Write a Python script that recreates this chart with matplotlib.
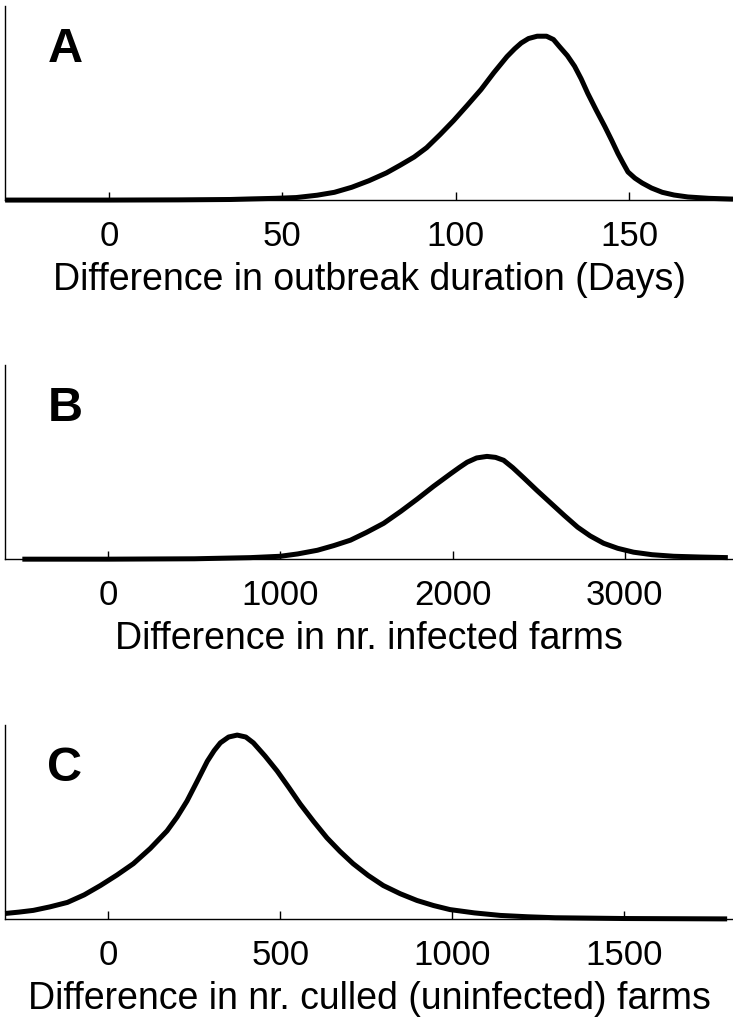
import numpy as np
import matplotlib
matplotlib.use('Agg')
import matplotlib.pyplot as plt

plt.rcParams['font.family'] = ['Liberation Sans', 'DejaVu Sans']

# panel A: difference in outbreak duration (days), normalised density
dur_x = [-30, 0, 20, 35, 41, 48, 54, 60, 65, 70, 75, 80, 84, 88, 91.6, 95.5, 99.4,
         103.4, 107.3, 111, 114.8, 117, 118.9, 121, 123.5, 126.2, 128.2, 130,
         132.2, 134.3, 136.2, 138.1, 140.5, 143, 145, 146.8, 148.3, 149.7, 151.7,
         153.8, 156.5, 159.6, 163, 167, 173, 180]
dur_y = [0.0, 0.0, 0.001, 0.003, 0.006, 0.009, 0.013, 0.025, 0.04, 0.066, 0.10,
         0.14, 0.18, 0.222, 0.27, 0.338, 0.41, 0.49, 0.57, 0.657, 0.74, 0.78,
         0.81, 0.833, 0.845, 0.845, 0.828, 0.79, 0.745, 0.69, 0.625, 0.55, 0.465,
         0.38, 0.308, 0.24, 0.19, 0.145, 0.113, 0.088, 0.062, 0.04, 0.026, 0.016,
         0.009, 0.005]

# panel B: difference in nr. infected farms
inf_x = [-500, 0, 500, 826, 1000, 1100, 1215, 1310, 1407, 1500, 1600, 1700, 1795,
         1890, 1988, 2040, 2085, 2140, 2200, 2250, 2297, 2350, 2413, 2490, 2570,
         2650, 2727, 2800, 2878, 2960, 3052, 3160, 3285, 3440, 3600]
inf_y = [0.0, 0.0, 0.002, 0.008, 0.015, 0.027, 0.046, 0.07, 0.098, 0.138, 0.185,
         0.247, 0.31, 0.376, 0.44, 0.473, 0.50, 0.522, 0.53, 0.525, 0.51, 0.472,
         0.42, 0.355, 0.29, 0.225, 0.165, 0.12, 0.082, 0.056, 0.036, 0.023, 0.015,
         0.011, 0.008]

# panel C: difference in nr. culled (uninfected) farms
cul_x = [-300, -260, -218, -170, -119, -70, -23, 25, 73, 122, 171, 200, 229, 258,
         288, 308, 326, 350, 375, 400, 422, 456, 491, 525, 558, 597, 636, 674,
         712, 756, 800, 849, 898, 946, 994, 1065, 1140, 1220, 1300, 1500, 1800]
cul_y = [0.03, 0.037, 0.046, 0.064, 0.087, 0.126, 0.174, 0.228, 0.287, 0.365,
         0.456, 0.527, 0.61, 0.71, 0.815, 0.87, 0.91, 0.94, 0.95, 0.94, 0.91,
         0.842, 0.765, 0.68, 0.595, 0.505, 0.42, 0.35, 0.287, 0.226, 0.174, 0.132,
         0.097, 0.071, 0.05, 0.033, 0.02, 0.013, 0.008, 0.004, 0.002]

panels = [
    ('A', dur_x, dur_y, (-30, 180), [0, 50, 100, 150],
     'Difference in outbreak duration (Days)'),
    ('B', inf_x, inf_y, (-600, 3630), [0, 1000, 2000, 3000],
     'Difference in nr. infected farms'),
    ('C', cul_x, cul_y, (-300, 1817), [0, 500, 1000, 1500],
     'Difference in nr. culled (uninfected) farms'),
]

fig = plt.figure(figsize=(7.33, 10.26), dpi=100)
bottoms = [0.805, 0.455, 0.104]
height = 0.189

for (letter, xs, ys, xlim, ticks, label), b in zip(panels, bottoms):
    ax = fig.add_axes([0.007, b, 0.993, height])
    ax.plot(xs, ys, color='black', lw=3.6, clip_on=False,
            solid_capstyle='butt', solid_joinstyle='round')
    ax.set_xlim(*xlim)
    ax.set_ylim(0, 1)
    ax.spines['top'].set_visible(False)
    ax.spines['right'].set_visible(False)
    ax.spines['left'].set_linewidth(1.0)
    ax.spines['bottom'].set_linewidth(1.0)
    ax.set_yticks([])
    ax.set_xticks(ticks)
    ax.tick_params(axis='x', direction='in', length=6, width=1,
                   labelsize=25, pad=14)
    ax.set_xlabel(label, fontsize=27, labelpad=7)
    ax.text(0.058, 0.713, letter, transform=ax.transAxes, fontsize=35,
            fontweight='bold', va='baseline', ha='left')

fig.savefig('out.png', dpi=100)
